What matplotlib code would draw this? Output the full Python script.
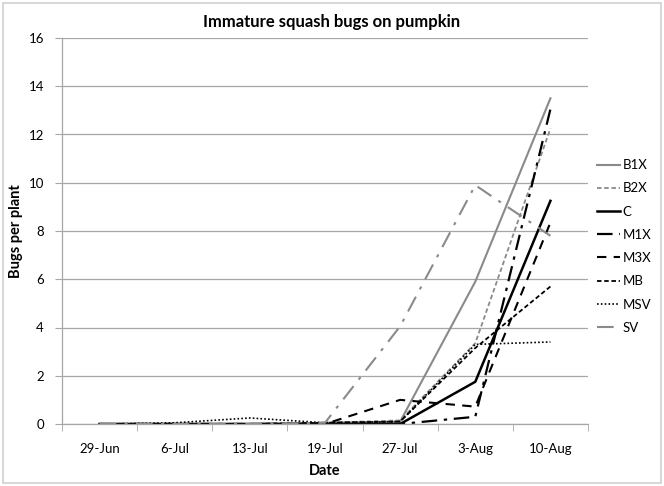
import matplotlib
matplotlib.use("Agg")
import matplotlib.pyplot as plt
from matplotlib.patches import Rectangle

dates = ['29-Jun', '6-Jul', '13-Jul', '19-Jul', '27-Jul', '3-Aug', '10-Aug']
B1X = [0, 0, 0, 0.05, 0.1, 5.9, 13.5]
B2X = [0, 0, 0, 0.05, 0.15, 3.35, 12.25]
C = [0, 0, 0, 0, 0, 1.75, 9.25]
M1X = [0, 0, 0, 0, 0, 0.3, 13.05]
M3X = [0, 0, 0, 0, 1.0, 0.72, 8.35]
MB = [0, 0, 0, 0.05, 0.1, 3.15, 5.7]
MSV = [0, 0.05, 0.25, 0.05, 0.1, 3.3, 3.4]
SV = [0, 0, 0, 0.05, 4.05, 9.9, 7.8]

plt.rcParams['font.family'] = ['Lato', 'DejaVu Sans']

fig = plt.figure(figsize=(6.64, 4.86), dpi=100)
W, H = 664, 486
ax = fig.add_axes([62 / W, (H - 424) / H, (588 - 62) / W, 386 / H])

x = list(range(len(dates)))
series = [
    ('B1X', B1X, dict(color='#8a8a8a', lw=1.5, ls='-')),
    ('B2X', B2X, dict(color='#8a8a8a', lw=1.3, ls=(0, (2.5, 1.5)))),
    ('C', C, dict(color='black', lw=1.8, ls='-')),
    ('M1X', M1X, dict(color='black', lw=1.6, ls=(0, (7, 3, 1.5, 3)))),
    ('M3X', M3X, dict(color='black', lw=1.5, ls=(0, (4.5, 3.5)))),
    ('MB', MB, dict(color='black', lw=1.3, ls=(0, (2.5, 1.5)))),
    ('MSV', MSV, dict(color='black', lw=1.2, ls=(0, (1, 1.3)))),
    ('SV', SV, dict(color='#8a8a8a', lw=1.5, ls=(0, (8, 4, 1.5, 4)))),
]
for name, vals, st in series:
    ax.plot(x, vals, label=name, **st)

ax.set_xlim(-0.5, len(dates) - 0.5)
ax.set_ylim(0, 16)
ax.set_yticks(range(0, 17, 2))
ax.yaxis.grid(True, color='#a6a6a6', lw=0.9)
ax.set_axisbelow(True)
ax.set_xticks(x)
ax.set_xticklabels(dates, fontsize=9.5)
ax.set_xticks([i - 0.5 for i in range(len(dates) + 1)], minor=True)
ax.tick_params(axis='x', which='major', length=0, pad=14)
ax.tick_params(axis='x', which='minor', length=5, color='#a6a6a6', direction='out')
ax.tick_params(axis='y', length=5, color='#a6a6a6', labelsize=9.5, pad=8)
for s in ['top', 'right']:
    ax.spines[s].set_visible(False)
for s in ['left', 'bottom']:
    ax.spines[s].set_color('#a6a6a6')
    ax.spines[s].set_linewidth(0.9)

ax.set_xlabel('Date', fontsize=10.5, fontweight='bold', labelpad=6)
ax.set_ylabel('Bugs per plant', fontsize=10.5, fontweight='bold', labelpad=4)
fig.text(332 / W, 1 - 22 / H, 'Immature squash bugs on pumpkin', ha='center', va='center',
         fontsize=12, fontweight='bold')

leg = fig.legend(loc='upper left', bbox_to_anchor=(588 / W, 1 - 150 / H), frameon=False,
                 fontsize=9.5, handlelength=1.7, labelspacing=0.85, handletextpad=0.2,
                 borderaxespad=0.3)

fig.patches.append(Rectangle((3 / W, 3 / H), 1 - 6 / W, 1 - 6 / H, transform=fig.transFigure,
                             fill=False, edgecolor='#d0d0d0', lw=1.2))

fig.savefig('out.png', dpi=100)
